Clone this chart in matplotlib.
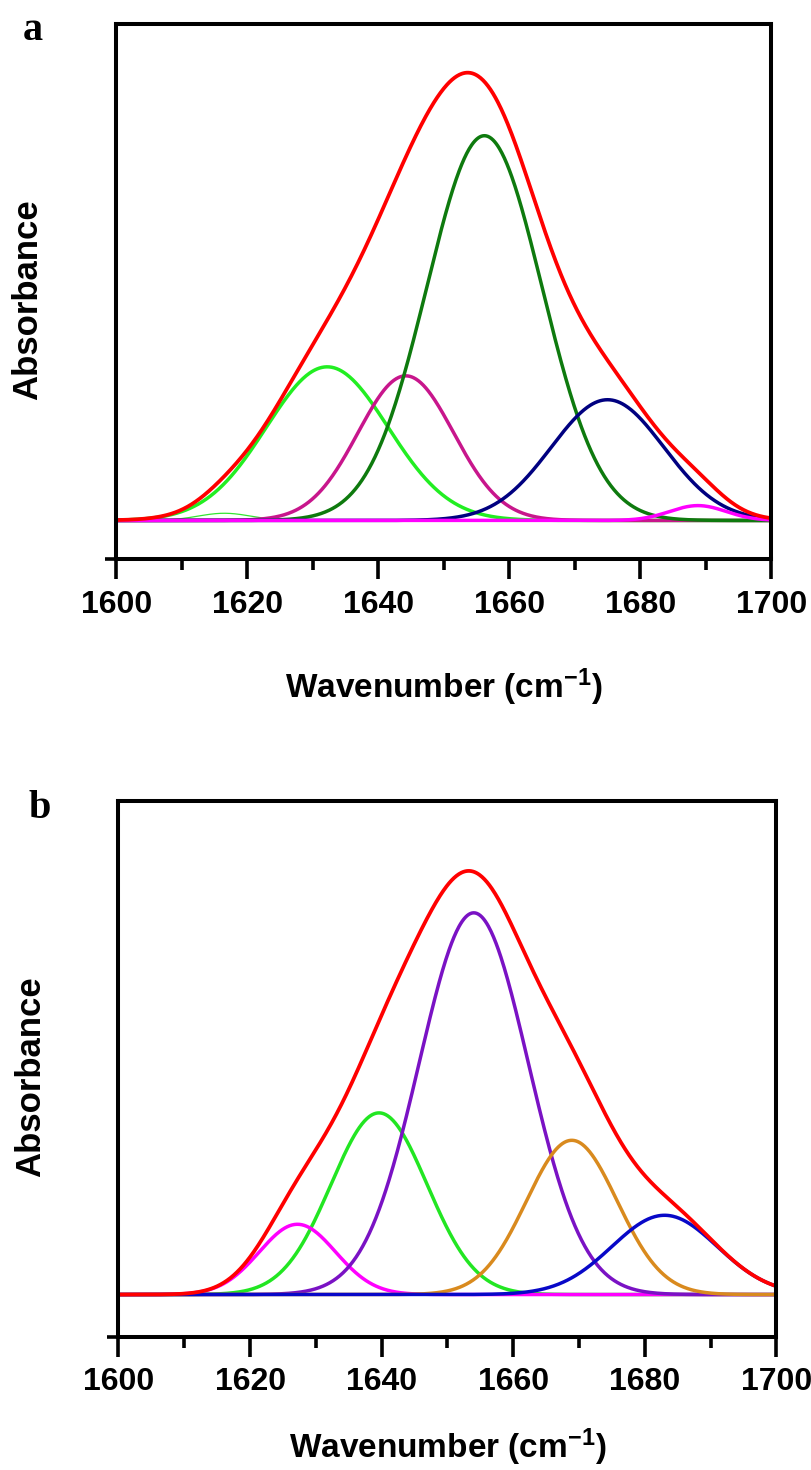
import numpy as np
import matplotlib.pyplot as plt
from matplotlib.ticker import MultipleLocator

plt.rcParams['font.family'] = ['Liberation Sans', 'DejaVu Sans']
plt.rcParams['font.weight'] = 'bold'
plt.rcParams['mathtext.fontset'] = 'custom'
plt.rcParams['mathtext.rm'] = 'Liberation Sans:bold'
plt.rcParams['mathtext.bf'] = 'Liberation Sans:bold'
plt.rcParams['mathtext.default'] = 'bf'

# Band fit of the amide I region.
# Each band: centre (cm-1), height (fraction of the envelope maximum), gaussian sigma (cm-1)
a_centres = [1616.5, 1632.2, 1644.2, 1656.2, 1675.0, 1688.8]
a_heights = [0.016, 0.341, 0.321, 0.854, 0.268, 0.033]
a_sigmas = [4.0, 9.3, 7.3, 8.8, 8.6, 4.3]

b_centres = [1639.6, 1627.2, 1654.0, 1668.9, 1683.0]
b_heights = [0.424, 0.164, 0.891, 0.360, 0.185]
b_sigmas = [7.3, 5.8, 8.3, 6.9, 8.0]

x_ticks = [1600, 1620, 1640, 1660, 1680, 1700]

# styles
a_colours = ['#33E633', '#22EE22', '#C8168C', '#0E7A0E', '#000080', '#FF00FF']
a_widths = [0.9, 2.5, 2.5, 2.5, 2.5, 2.5]
b_colours = ['#22E622', '#FF00FF', '#7A12C4', '#D98A1E', '#0808C8']
b_widths = [2.5, 2.5, 2.5, 2.5, 2.5]
envelope_colour = '#FF0000'

wavenumber = np.linspace(1600, 1700, 801)


def band(centre, height, sigma):
    return height * np.exp(-(wavenumber - centre) ** 2 / (2 * sigma ** 2))


def draw_panel(ax, centres, heights, sigmas, colours, widths, ylim):
    envelope = np.zeros_like(wavenumber)
    for c, h, s, col, lw in zip(centres, heights, sigmas, colours, widths):
        y = band(c, h, s)
        envelope += y
        ax.plot(wavenumber, y, color=col, lw=lw, solid_capstyle='butt')
    ax.plot(wavenumber, envelope, color=envelope_colour, lw=2.7)

    ax.set_xlim(1600, 1700)
    ax.set_ylim(*ylim)
    ax.set_xticks(x_ticks)
    ax.xaxis.set_minor_locator(MultipleLocator(10))
    ax.set_yticks([ylim[0]])
    ax.set_yticklabels([])
    ax.tick_params(axis='x', which='major', direction='out', length=14.5,
                   width=2.6, pad=7.5, labelsize=23)
    ax.tick_params(axis='x', which='minor', direction='out', length=8, width=2.6)
    ax.tick_params(axis='y', which='major', direction='out', length=8, width=2.6)
    for sp in ax.spines.values():
        sp.set_linewidth(2.9)
    for lab in ax.get_xticklabels():
        lab.set_fontweight('bold')

    ax.set_xlabel('Wavenumber (cm$^{-1}$)', fontsize=24, fontweight='bold', va='center')
    ax.set_ylabel('Absorbance', fontsize=25, fontweight='bold', va='center')


fig = plt.figure(figsize=(8.12, 14.7), dpi=100)

ax_a = fig.add_axes([0.1432, 0.6194, 0.8067, 0.3646])
draw_panel(ax_a, a_centres, a_heights, a_sigmas, a_colours, a_widths, (-0.0866, 1.103))
ax_a.xaxis.set_label_coords(0.5, -0.238)
ax_a.yaxis.set_label_coords(-0.1354, 0.484)

ax_b = fig.add_axes([0.1459, 0.0908, 0.8103, 0.3643])
draw_panel(ax_b, b_centres, b_heights, b_sigmas, b_colours, b_widths, (-0.098, 1.152))
ax_b.xaxis.set_label_coords(0.5, -0.206)
ax_b.yaxis.set_label_coords(-0.133, 0.485)

fig.text(33 / 812, 1 - 40 / 1470, 'a', family=['Liberation Serif', 'DejaVu Serif'],
         fontweight='bold', fontsize=29, ha='center', va='baseline')
fig.text(40 / 812, 1 - 818 / 1470, 'b', family=['Liberation Serif', 'DejaVu Serif'],
         fontweight='bold', fontsize=29, ha='center', va='baseline')

fig.savefig('out.png', dpi=100)
